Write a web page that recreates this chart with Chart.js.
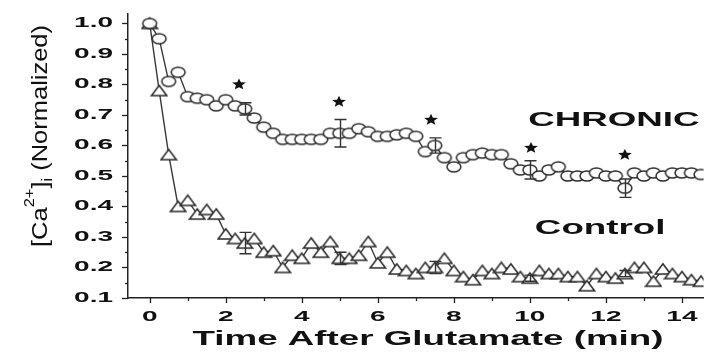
<!DOCTYPE html>
<html><head><meta charset="utf-8">
<script src="https://cdn.jsdelivr.net/npm/chart.js@4/dist/chart.umd.min.js"></script>
<style>html,body{margin:0;padding:0;background:#fff;}#wrap{width:712px;height:356px;position:relative;}</style>
</head><body><div id="wrap"><canvas id="c" width="712" height="356"></canvas></div>
<script>
// ---- data ----
const times = [0,0.25,0.5,0.75,1,1.25,1.5,1.75,2,2.25,2.5,2.75,3,3.25,3.5,3.75,4,4.25,4.5,4.75,5,5.25,5.5,5.75,6,6.25,6.5,6.75,7,7.25,7.5,7.75,8,8.25,8.5,8.75,9,9.25,9.5,9.75,10,10.25,10.5,10.75,11,11.25,11.5,11.75,12,12.25,12.5,12.75,13,13.25,13.5,13.75,14,14.25,14.5];
const chronic = [1.00,0.95,0.81,0.84,0.76,0.755,0.75,0.73,0.75,0.73,
  0.72,0.69,0.66,0.64,0.62,0.62,0.62,0.62,0.62,0.64,
  0.64,0.64,0.655,0.645,0.63,0.63,0.635,0.64,0.63,0.58,
  0.60,0.56,0.53,0.56,0.57,0.575,0.57,0.57,0.54,0.52,
  0.52,0.50,0.52,0.53,0.50,0.50,0.50,0.51,0.50,0.50,
  0.46,0.51,0.50,0.51,0.50,0.51,0.51,0.51,0.505];
const control = [1.00,0.78,0.57,0.40,0.42,0.375,0.39,0.375,0.31,0.295,
  0.28,0.295,0.25,0.255,0.20,0.24,0.23,0.28,0.25,0.285,
  0.23,0.23,0.24,0.285,0.215,0.25,0.195,0.19,0.18,0.20,
  0.20,0.23,0.19,0.17,0.16,0.19,0.18,0.20,0.195,0.17,
  0.165,0.19,0.18,0.18,0.17,0.17,0.14,0.18,0.17,0.165,
  0.18,0.20,0.20,0.155,0.195,0.18,0.17,0.16,0.155];
const errTimes = [2.5,5,7.5,10,12.5];
const chronicErr = [0.02,0.045,0.025,0.03,0.03];
const controlErr = [0.035,0.02,0.02,0.01,0.01];
const starTimes = [2.35,4.98,7.4,10.03,12.5];
const starValues = [0.80,0.743,0.684,0.592,0.569];
const yTickLabels = ['0.1','0.2','0.3','0.4','0.5','0.6','0.7','0.8','0.9','1.0'];
const xTickLabels = ['0','2','4','6','8','10','12','14'];
const seriesNames = ['CHRONIC','Control'];
const xTitle = 'Time After Glutamate (min)';

// ---- markers ----
function makeMarker(kind){
  const c=document.createElement('canvas'); c.width=18; c.height=14;
  const g=c.getContext('2d'); g.lineWidth=1.5; g.strokeStyle='#2a2a2a'; g.fillStyle='#fff';
  g.beginPath();
  if(kind==='circle'){ g.ellipse(9,7,6.9,5.0,0,0,Math.PI*2); }
  else { g.moveTo(9,1.8); g.lineTo(16.6,12.0); g.lineTo(1.4,12.0); g.closePath(); }
  g.fill(); g.stroke(); return c;
}
const circ = makeMarker('circle'), tri = makeMarker('tri');

const FONT = '"Liberation Sans", Arial, sans-serif';
function stext(ctx, txt, x, y, font, sx, align){
  ctx.save(); ctx.translate(x,y); ctx.scale(sx,1);
  ctx.font=font; ctx.textAlign=align; ctx.textBaseline='middle'; ctx.fillStyle='#111';
  ctx.fillText(txt,0,0); ctx.restore();
}
function valAt(arr,t){ return arr[times.indexOf(t)]; }

const deco = {
  id:'deco',
  afterDraw(chart){
    const ctx=chart.ctx, xs=chart.scales.x, ys=chart.scales.y, ca=chart.chartArea;
    ctx.save();
    // ticks
    ctx.strokeStyle='#222'; ctx.lineWidth=1.3;
    ys.ticks.forEach(t=>{
      const y=Math.round(ys.getPixelForValue(t.value))+0.5;
      const major = Math.abs(Math.round(t.value*10)-t.value*10)<1e-6;
      ctx.beginPath(); ctx.moveTo(ca.left,y); ctx.lineTo(ca.left-(major?6:3),y); ctx.stroke();
    });
    xs.ticks.forEach(t=>{
      const x=Math.round(xs.getPixelForValue(t.value))+0.5;
      const major = t.value%2===0;
      ctx.beginPath(); ctx.moveTo(x,ca.bottom); ctx.lineTo(x,ca.bottom+(major?5:3)); ctx.stroke();
    });
    // tick labels
    const tf='bold 14px '+FONT;
    yTickLabels.forEach(l=>stext(ctx,l,113,ys.getPixelForValue(parseFloat(l)),tf,2.0,'right'));
    xTickLabels.forEach(l=>stext(ctx,l,xs.getPixelForValue(parseFloat(l)),317,tf,2.0,'center'));
    // axis title x
    stext(ctx,xTitle,428,339,'bold 21px '+FONT,1.75,'center');
    // series labels
    stext(ctx,seriesNames[0],xs.getPixelForValue(12.21),120,'bold 21px '+FONT,1.75,'center');
    stext(ctx,seriesNames[1],xs.getPixelForValue(11.85),228,'bold 21px '+FONT,1.75,'center');
    // error bars
    ctx.strokeStyle='#333'; ctx.lineWidth=1.4;
    const bars=(arr,err)=>errTimes.forEach((t,i)=>{
      const x=Math.round(xs.getPixelForValue(t))+0.5, v=valAt(arr,t);
      const y1=ys.getPixelForValue(v+err[i]), y2=ys.getPixelForValue(v-err[i]);
      ctx.beginPath(); ctx.moveTo(x,y1); ctx.lineTo(x,y2);
      ctx.moveTo(x-6,y1); ctx.lineTo(x+6,y1); ctx.moveTo(x-6,y2); ctx.lineTo(x+6,y2); ctx.stroke();
    });
    bars(chronic,chronicErr); bars(control,controlErr);
    // stars
    ctx.fillStyle='#111';
    starTimes.forEach((t,i)=>{
      const cx=xs.getPixelForValue(t), cy=ys.getPixelForValue(starValues[i]);
      ctx.beginPath();
      for(let k=0;k<10;k++){
        const r=k%2===0?6.3:2.8, a=-Math.PI/2+k*Math.PI/5;
        const px=cx+r*Math.cos(a)*1.15, py=cy+r*Math.sin(a)*0.95;
        k===0?ctx.moveTo(px,py):ctx.lineTo(px,py);
      }
      ctx.closePath(); ctx.fill();
    });
    // y title with super/subscript
    ctx.save();
    ctx.translate(47,136); ctx.rotate(-Math.PI/2);
    const big='17px '+FONT, small='11px '+FONT;
    const parts=[['[Ca',big,0],['2+',small,-10],[']',big,0],['i',small,4],[' (Normalized)',big,0]];
    let w=0; parts.forEach(p=>{ctx.font=p[1]; w+=ctx.measureText(p[0]).width;});
    ctx.scale(222/w,1.35);
    ctx.fillStyle='#111'; ctx.textBaseline='alphabetic'; ctx.textAlign='left';
    let x=-w/2;
    parts.forEach(p=>{ctx.font=p[1]; ctx.fillText(p[0],x,p[2]); x+=ctx.measureText(p[0]).width;});
    ctx.restore();
    ctx.restore();
  }
};

new Chart(document.getElementById('c'),{
  type:'line',
  data:{datasets:[
    {label:seriesNames[0], data:times.map((t,i)=>({x:t,y:chronic[i]})), borderColor:'#3a3a3a', borderWidth:1.4,
     pointStyle:circ, pointRadius:7, pointHoverRadius:7, tension:0},
    {label:seriesNames[1], data:times.map((t,i)=>({x:t,y:control[i]})), borderColor:'#3a3a3a', borderWidth:1.4,
     pointStyle:tri, pointRadius:7, pointHoverRadius:7, tension:0}
  ]},
  options:{
    responsive:false, animation:false, events:[],
    layout:{padding:{top:14,left:0,right:0,bottom:0}},
    plugins:{legend:{display:false},tooltip:{enabled:false}},
    scales:{
      x:{type:'linear',min:-0.57,max:14.57,
         ticks:{stepSize:1,includeBounds:false,autoSkip:false,callback:()=>''},
         grid:{display:false}, border:{display:true,color:'#222',width:1.5},
         afterFit:s=>{s.height=58;}},
      y:{type:'linear',min:0.1,max:1.031,
         ticks:{stepSize:0.05,includeBounds:false,autoSkip:false,callback:()=>''},
         grid:{display:false}, border:{display:true,color:'#222',width:1.5},
         afterFit:s=>{s.width=128;}}
    }
  },
  plugins:[deco]
});
</script></body></html>
